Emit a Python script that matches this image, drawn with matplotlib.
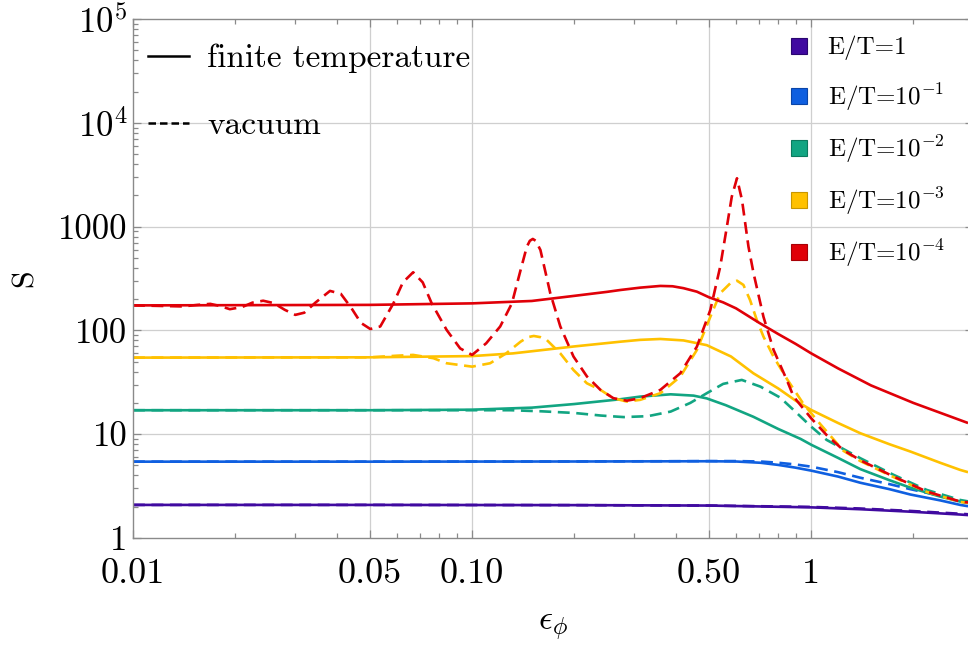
import matplotlib
matplotlib.use('Agg')
import matplotlib.pyplot as plt
from matplotlib.lines import Line2D
from matplotlib.ticker import FixedLocator, NullFormatter

plt.rcParams['font.family'] = 'cmr10'
plt.rcParams['mathtext.fontset'] = 'cm'
plt.rcParams['axes.formatter.use_mathtext'] = True

# E/T = 1
x_p = [0.01, 0.05, 0.2, 0.5, 0.708, 1.0, 1.396, 1.96, 2.75, 2.9]
s_p_fin = [2.08, 2.08, 2.07, 2.05, 2.01, 1.97, 1.89, 1.79, 1.68, 1.66]
s_p_vac = [2.08, 2.08, 2.07, 2.05, 2.02, 1.99, 1.92, 1.82, 1.71, 1.69]

# E/T = 1e-1
x_b = [0.01, 0.05, 0.2, 0.5, 0.6, 0.708, 0.8, 0.9, 1.0, 1.2, 1.396, 1.7, 1.96, 2.4, 2.75, 2.9]
s_b_fin = [5.43, 5.43, 5.45, 5.48, 5.45, 5.3, 5.05, 4.75, 4.45, 3.9, 3.4, 2.95, 2.62, 2.3, 2.08, 2.02]
s_b_vac = [5.43, 5.43, 5.45, 5.5, 5.5, 5.45, 5.3, 5.1, 4.86, 4.3, 3.8, 3.3, 2.95, 2.55, 2.26, 2.18]

# E/T = 1e-2
x_g_fin = [0.01, 0.05, 0.1, 0.15, 0.2, 0.274, 0.313, 0.385, 0.45, 0.492, 0.56,
           0.675, 0.8, 0.93, 1.0, 1.2, 1.396, 1.7, 1.96, 2.4, 2.75, 2.9]
s_g_fin = [17.0, 17.0, 17.2, 18.0, 19.5, 21.7, 23.0, 24.2, 23.5, 22.1, 19.0,
           14.7, 11.2, 9.0, 7.9, 5.9, 4.6, 3.6, 3.05, 2.5, 2.24, 2.17]
x_g_vac = [0.01, 0.05, 0.1, 0.13, 0.16, 0.2, 0.24, 0.28, 0.33, 0.385, 0.44, 0.492,
           0.55, 0.624, 0.708, 0.81, 0.887, 1.0, 1.11, 1.396, 1.75, 2.19, 2.75, 2.9]
s_g_vac = [17.0, 17.0, 17.0, 17.0, 16.6, 16.0, 15.1, 14.6, 14.9, 16.5, 20.0, 24.8,
           30.5, 33.3, 28.7, 22.5, 17.1, 11.8, 8.8, 5.86, 4.05, 2.9, 2.32, 2.25]

# E/T = 1e-3
x_y_fin = [0.01, 0.05, 0.1, 0.132, 0.2, 0.274, 0.313, 0.359, 0.42, 0.492, 0.58,
           0.675, 0.8, 0.9, 1.0, 1.2, 1.396, 1.7, 1.96, 2.4, 2.75, 2.9]
s_y_fin = [54.6, 55.0, 56.5, 60.0, 70.0, 77.8, 81.0, 82.6, 80.0, 72.0, 56.0,
           38.6, 27.5, 21.0, 17.1, 12.8, 10.2, 8.0, 6.8, 5.3, 4.52, 4.3]
x_y_vac = [0.01, 0.05, 0.06, 0.067, 0.0769, 0.0841, 0.1, 0.113, 0.126, 0.139, 0.146,
           0.152, 0.159, 0.166, 0.182, 0.199, 0.218, 0.239, 0.261, 0.286, 0.313,
           0.359, 0.411, 0.46, 0.504, 0.539, 0.577, 0.604, 0.631, 0.66, 0.691,
           0.723, 0.774, 0.848, 0.949, 1.063, 1.245, 1.396, 1.75, 2.19, 2.75, 2.9]
s_y_vac = [54.6, 55.0, 57.0, 58.0, 53.9, 48.2, 44.7, 48.2, 60.0, 77.8, 86.0,
           88.3, 86.0, 80.8, 60.0, 41.5, 30.9, 26.7, 22.2, 20.6, 21.4,
           24.8, 35.8, 64.7, 135, 228, 284, 301, 274, 196, 126,
           87.0, 55.8, 34.0, 19.5, 12.5, 6.9, 5.5, 3.85, 2.78, 2.22, 2.18]

# E/T = 1e-4
x_r_fin = [0.01, 0.05, 0.1, 0.15, 0.2, 0.25, 0.274, 0.313, 0.359, 0.39, 0.42, 0.46,
           0.5, 0.55, 0.6, 0.7, 0.8, 0.9, 1.0, 1.2, 1.5, 2.0, 2.5, 2.9]
s_r_fin = [174, 176, 182, 192, 215, 235, 245, 258, 268, 266, 255, 236,
           208, 186, 163, 119, 92, 74, 60, 43, 29.5, 20.0, 15.3, 12.8]
x_r_vac = [0.01, 0.012, 0.014, 0.0155, 0.0169, 0.018, 0.0193, 0.021, 0.0225, 0.0242,
           0.026, 0.028, 0.0301, 0.032, 0.0345, 0.0381, 0.041, 0.044, 0.047, 0.0501,
           0.0536, 0.0586, 0.0625, 0.067, 0.0715, 0.076, 0.0841, 0.0922, 0.1, 0.11,
           0.121, 0.131, 0.139, 0.145, 0.148, 0.151, 0.154, 0.159, 0.17, 0.182,
           0.199, 0.218, 0.239, 0.261, 0.286, 0.313, 0.359, 0.411, 0.46, 0.504,
           0.539, 0.564, 0.583, 0.604, 0.625, 0.653, 0.676, 0.723, 0.774, 0.848,
           0.887, 1.0, 1.11, 1.245, 1.396, 1.75, 2.19, 2.75, 2.9]
s_r_vac = [174, 172, 170, 176, 180, 172, 160, 168, 185, 193,
           183, 158, 141, 148, 185, 240, 225, 165, 118, 103,
           109, 182, 290, 363, 290, 182, 101, 67, 58, 75,
           109, 182, 382, 640, 730, 760, 730, 595, 228, 109,
           56, 36, 26.7, 22.2, 21.0, 22.2, 26.7, 38.6, 69.7, 157,
           411, 998, 1940, 2920, 1800, 640, 355, 135, 65, 33,
           23, 14.2, 9.8, 7.0, 5.6, 3.9, 2.8, 2.24, 2.2]

labels = ['E/T=1', 'E/T=10$^{-1}$', 'E/T=10$^{-2}$', 'E/T=10$^{-3}$', 'E/T=10$^{-4}$']
colors = ['#400aa0', '#0f5fe0', '#12a582', '#ffc100', '#e00008']
edge_colors = ['#2a0670', '#0a45a8', '#0c7a5e', '#c89600', '#a80006']

x_ticks = [0.01, 0.05, 0.1, 0.5, 1]
x_tick_labels = ['0.01', '0.05', '0.10', '0.50', '1']
y_ticks = [1, 10, 100, 1000, 1e4, 1e5]
y_tick_labels = ['1', '10', '100', '1000', r'$10^4$', r'$10^5$']

series = [
    (x_p, s_p_fin, x_p, s_p_vac),
    (x_b, s_b_fin, x_b, s_b_vac),
    (x_g_fin, s_g_fin, x_g_vac, s_g_vac),
    (x_y_fin, s_y_fin, x_y_vac, s_y_vac),
    (x_r_fin, s_r_fin, x_r_vac, s_r_vac),
]

fig = plt.figure(figsize=(9.68, 6.56), dpi=100)
ax = fig.add_axes([0.1374, 0.180, 0.8678, 0.791])

for (xf, yf, xv, yv), c in zip(series, colors):
    ax.plot(xf, yf, color=c, lw=1.9, solid_capstyle='butt')
    ax.plot(xv, yv, color=c, lw=1.9, ls=(0, (4.5, 2.5)))

ax.set_xscale('log')
ax.set_yscale('log')
ax.set_xlim(0.01, 3.0)
ax.set_ylim(1, 1e5)

ax.xaxis.set_major_locator(FixedLocator(x_ticks))
ax.set_xticklabels(x_tick_labels)
minor_x = [k * 10.0 ** e for e in (-2, -1, 0) for k in range(2, 10) if k != 5]
ax.xaxis.set_minor_locator(FixedLocator(minor_x))
ax.xaxis.set_minor_formatter(NullFormatter())
ax.yaxis.set_major_locator(FixedLocator(y_ticks))
ax.set_yticklabels(y_tick_labels)
minor_y = [k * 10.0 ** e for e in range(0, 5) for k in range(2, 10)]
ax.yaxis.set_minor_locator(FixedLocator(minor_y))
ax.yaxis.set_minor_formatter(NullFormatter())

ax.tick_params(which='both', direction='in', top=True, right=True,
               color='#8a8a8a', width=0.9)
ax.tick_params(which='major', length=6)
ax.tick_params(which='minor', length=3.5)
ax.tick_params(axis='x', which='major', labelsize=26, pad=15)
ax.tick_params(axis='y', which='major', labelsize=25, pad=4)
for side in ax.spines.values():
    side.set_color('#8a8a8a')
    side.set_linewidth(1.0)

for gx in [0.05, 0.1, 0.5, 1]:
    ax.axvline(gx, color='#cfcfcf', lw=0.9, zorder=0)
for gy in [10, 100, 1000, 1e4]:
    ax.axhline(gy, color='#cfcfcf', lw=0.9, zorder=0)

ax.set_xlabel(r'$\epsilon_\phi$', fontsize=25, labelpad=15)
ax.set_ylabel('S', fontsize=23, labelpad=14)

style_handles = [Line2D([], [], color='black', lw=1.8),
                 Line2D([], [], color='black', lw=1.8, ls=(0, (3.0, 1.6)))]
leg1 = ax.legend(style_handles, ['finite temperature', 'vacuum'],
                 loc='upper left', bbox_to_anchor=(0.0095, 0.965), frameon=False,
                 fontsize=24, handlelength=1.25, handletextpad=0.54,
                 labelspacing=1.13, borderpad=0.2, borderaxespad=0)
ax.add_artist(leg1)

color_handles = [Line2D([], [], ls='none', marker='s', markersize=11,
                        markerfacecolor=c, markeredgecolor=e, markeredgewidth=0.8)
                 for c, e in zip(colors, edge_colors)]
ax.legend(color_handles, labels, loc='upper left', bbox_to_anchor=(0.774, 0.977),
          frameon=False, fontsize=18, handlelength=0.9, handletextpad=0.68,
          labelspacing=0.82, borderpad=0.2, borderaxespad=0)

fig.savefig('out.png', dpi=100)
